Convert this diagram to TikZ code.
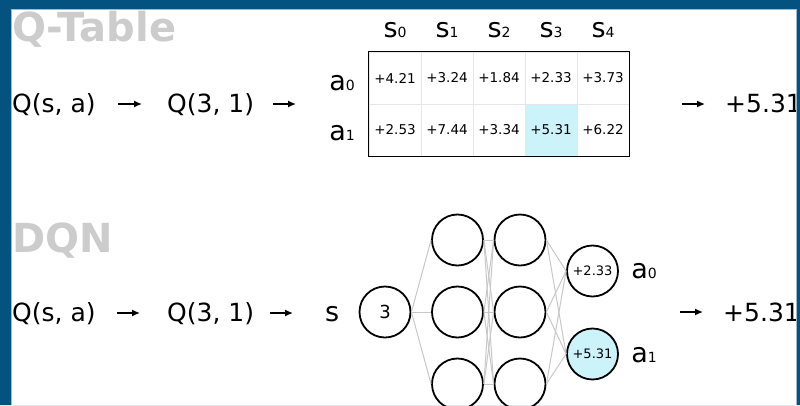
\documentclass[tikz,border=0pt]{standalone}
\usepackage{fontspec}
\setmainfont{DejaVu Sans}
\usetikzlibrary{arrows.meta}
\tikzset{>={Latex[length=8pt,width=7pt]}}
\definecolor{frameblue}{RGB}{4,82,128}
\definecolor{framelight}{RGB}{160,185,205}
\definecolor{titlegray}{RGB}{204,204,204}
\definecolor{hicyan}{RGB}{204,243,250}
\definecolor{gridgray}{RGB}{230,230,230}
\definecolor{wiregray}{RGB}{200,200,200}
\newcommand{\fsz}[2]{{\fontsize{#1}{#1}\selectfont #2}}
\newcommand{\idx}[2]{\fsz{27}{#1}\fsz{14}{#2}}

\begin{document}
\begin{tikzpicture}[x=1pt,y=-1pt]
\useasboundingbox (0,0) rectangle (800,405);
\fill[white] (0,0) rectangle (800,405);

% section titles
\begin{scope}[every node/.style={anchor=base west,inner sep=0,text=titlegray,
    font=\bfseries\fontsize{40}{40}\selectfont}]
\node (qtitle) at (12,41) {Q-Table};
\node (dtitle) at (12,252) {DQN};
\end{scope}

% row texts
\begin{scope}[every node/.style={anchor=base west,inner sep=0,font=\fontsize{25}{25}\selectfont}]
\node (qsa) at (12,112) {Q(s, a)};
\node (q31) at (167,112) {Q(3, 1)};
\node (qout) at (725,112) {+5.31};
\node (dqsa) at (12,321) {Q(s, a)};
\node (dq31) at (167,321) {Q(3, 1)};
\node (ds) at (325,321) {\fsz{27}{s}};
\node (dqout) at (723,321) {+5.31};
\end{scope}

% q-table
\begin{scope}[every node/.style={rectangle,draw=gridgray,line width=1pt,minimum size=52pt,
    inner sep=0,font=\fontsize{13.5}{13.5}\selectfont}]
\node (q00) at (395,78) {+4.21};
\node (q01) at (447,78) {+3.24};
\node (q02) at (499,78) {+1.84};
\node (q03) at (551,78) {+2.33};
\node (q04) at (603,78) {+3.73};
\node (q10) at (395,130) {+2.53};
\node (q11) at (447,130) {+7.44};
\node (q12) at (499,130) {+3.34};
\node[fill=hicyan] (q13) at (551,130) {+5.31};
\node (q14) at (603,130) {+6.22};
\end{scope}
\draw[line width=1.8pt] (q00.north west) rectangle (q14.south east);

\begin{scope}[every node/.style={anchor=base,inner sep=0}]
\node (s0) at (395,37) {\idx{s}{0}};
\node (s1) at (447,37) {\idx{s}{1}};
\node (s2) at (499,37) {\idx{s}{2}};
\node (s3) at (551,37) {\idx{s}{3}};
\node (s4) at (603,37) {\idx{s}{4}};
\node (ta0) at (342,90) {\idx{a}{0}};
\node (ta1) at (342,140) {\idx{a}{1}};
\node (na0) at (644,278) {\idx{a}{0}};
\node (na1) at (644,362) {\idx{a}{1}};
\end{scope}

% network
\begin{scope}[every node/.style={circle,draw,line width=1.8pt,minimum size=51pt,inner sep=0}]
\node (in) at (385,312) {\fsz{18}{3}};
\node (h11) at (457.5,240) {};
\node (h12) at (457.5,312) {};
\node (h13) at (457.5,384) {};
\node (h21) at (520,240) {};
\node (h22) at (520,312) {};
\node (h23) at (520,384) {};
\node (o0) at (592.5,271) {\fsz{13}{+2.33}};
\node[fill=hicyan] (o1) at (592.5,354) {\fsz{13}{+5.31}};
\end{scope}

\begin{scope}[every edge/.style={draw=wiregray,line width=1pt}]
    \path (in.east) edge (h11.west);
    \path (in.east) edge (h12.west);
    \path (in.east) edge (h13.west);

    \path (h11.east) edge (h21.west);
    \path (h11.east) edge (h22.west);
    \path (h11.east) edge (h23.west);
    \path (h12.east) edge (h21.west);
    \path (h12.east) edge (h22.west);
    \path (h12.east) edge (h23.west);
    \path (h13.east) edge (h21.west);
    \path (h13.east) edge (h22.west);
    \path (h13.east) edge (h23.west);

    \path (h21.east) edge (o0.west);
    \path (h21.east) edge (o1.west);
    \path (h22.east) edge (o0.west);
    \path (h22.east) edge (o1.west);
    \path (h23.east) edge (o0.west);
    \path (h23.east) edge (o1.west);
\end{scope}

% arrows
\coordinate (t1a) at (118,104); \coordinate (t1b) at (142,104);
\coordinate (t2a) at (273,104); \coordinate (t2b) at (296,104);
\coordinate (t3a) at (682,104); \coordinate (t3b) at (705,104);
\coordinate (d1a) at (117,313); \coordinate (d1b) at (140,313);
\coordinate (d2a) at (270,313); \coordinate (d2b) at (293,313);
\coordinate (d3a) at (680,312); \coordinate (d3b) at (703,312);
\begin{scope}[every edge/.style={draw=black,line width=1.4pt}]
    \path [->] (t1a) edge (t1b);
    \path [->] (t2a) edge (t2b);
    \path [->] (t3a) edge (t3b);
    \path [->] (d1a) edge (d1b);
    \path [->] (d2a) edge (d2b);
    \path [->] (d3a) edge (d3b);
\end{scope}

% frame
\fill[frameblue,even odd rule] (0,0) rectangle (800,405) (11,9) rectangle (797,405);
\draw[framelight,line width=0.8pt] (11.4,405) -- (11.4,9.4) -- (796.6,9.4) -- (796.6,405);
\end{tikzpicture}
\end{document}
